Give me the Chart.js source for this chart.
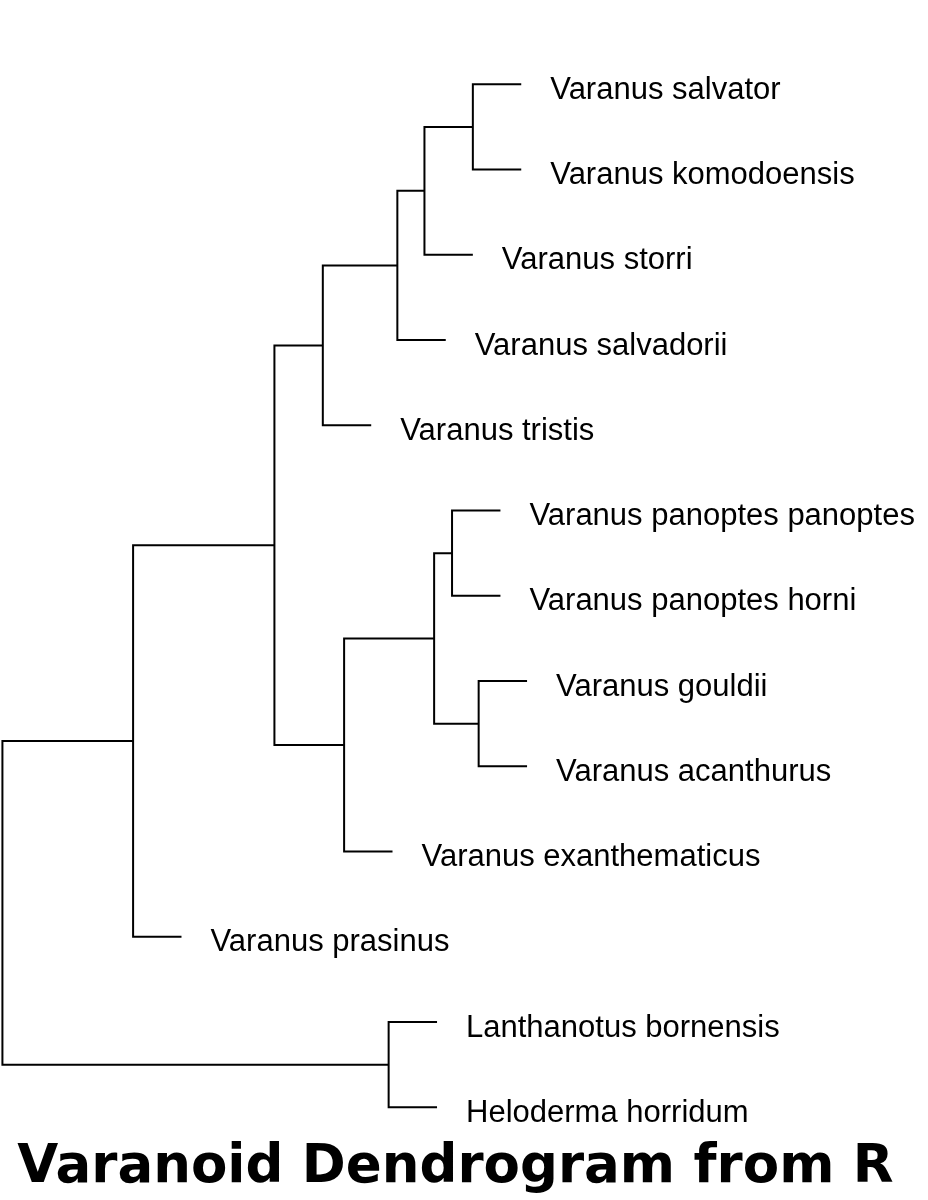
<!DOCTYPE html>
<html>
<head>
<meta charset="utf-8">
<title>Varanoid Dendrogram from R</title>
<script src="https://cdn.jsdelivr.net/npm/chart.js@4.4.1/dist/chart.umd.min.js"></script>
<style>
  html, body { margin: 0; padding: 0; background: #fff; }
  #wrap { width: 928px; height: 1200px; }
</style>
</head>
<body>
<div id="wrap"><canvas id="tree" width="928" height="1200"></canvas></div>
<script>
// leaves in plotting order, top to bottom
const leafLabels = [
  'Varanus salvator', 'Varanus komodoensis', 'Varanus storri', 'Varanus salvadorii',
  'Varanus tristis', 'Varanus panoptes panoptes', 'Varanus panoptes horni',
  'Varanus gouldii', 'Varanus acanthurus', 'Varanus exanthematicus',
  'Varanus prasinus', 'Lanthanotus bornensis', 'Heloderma horridum'
];

// hclust style merge table: negative = leaf number, positive = earlier merge row
const mergeA = [-8, -1, -6, 3, 2, 5, -12, 4, 6, 9, 10, 11];
const mergeB = [-9, -2, -7, 1, -3, -4, -13, -10, -5, 8, -11, 7];
const mergeHeight = [0.016, 0.028, 0.071, 0.108, 0.128, 0.184, 0.202, 0.294, 0.338, 0.438, 0.730, 1.000];
const hang = 0.1; // leaves hang 10% of the tree height below their parent

// 1. Build one bracket path per merge
const nodeY = [];
const leafX = [];
function childPos(c, h) {
  if (c < 0) {
    leafX[-c - 1] = h - hang;
    return { x: h - hang, y: -c };
  }
  return { x: mergeHeight[c - 1], y: nodeY[c - 1] };
}

const datasets = mergeHeight.map((h, i) => {
  const a = childPos(mergeA[i], h);
  const b = childPos(mergeB[i], h);
  nodeY[i] = (a.y + b.y) / 2;
  return {
    data: [{ x: a.x, y: a.y }, { x: h, y: a.y }, { x: h, y: b.y }, { x: b.x, y: b.y }],
    showLine: true,
    pointRadius: 0,
    borderColor: '#000',
    borderWidth: 2,
    borderJoinStyle: 'miter',
    fill: false,
    clip: false
  };
});

// 2. Leaf labels next to each hanging branch
const leafLabelPlugin = {
  id: 'leafLabels',
  afterDatasetsDraw(chart) {
    const { ctx, scales } = chart;
    ctx.save();
    ctx.fillStyle = '#000';
    ctx.font = '31px "Liberation Sans", Arial, sans-serif';
    ctx.textAlign = 'left';
    ctx.textBaseline = 'alphabetic';
    leafLabels.forEach((name, i) => {
      const px = scales.x.getPixelForValue(leafX[i]) + 29;
      const py = scales.y.getPixelForValue(i + 1) + 14.5;
      ctx.fillText(name, px, py);
    });
    ctx.restore();
  }
};

new Chart(document.getElementById('tree'), {
  type: 'scatter',
  data: { datasets },
  options: {
    responsive: false,
    animation: false,
    events: [],
    layout: { padding: { left: 0, right: 17, top: 0, bottom: 0 } },
    scales: {
      x: { type: 'linear', reverse: true, min: -0.8773, max: 1.005, display: false },
      y: { type: 'linear', reverse: true, min: 0.0111, max: 13.3414, display: false }
    },
    plugins: {
      legend: { display: false },
      tooltip: { enabled: false },
      title: {
        display: true,
        position: 'bottom',
        text: 'Varanoid Dendrogram from R',
        color: '#000',
        font: { family: '"DejaVu Sans"', size: 53, weight: 'bold', lineHeight: 1.2 },
        padding: { top: 0, bottom: 0 }
      }
    }
  },
  plugins: [leafLabelPlugin]
});
</script>
</body>
</html>
